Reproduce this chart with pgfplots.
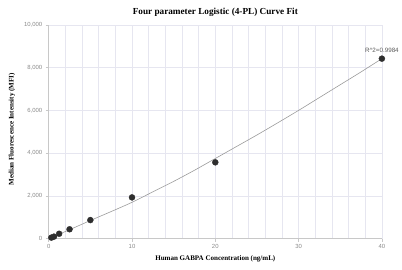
\documentclass[border=0pt]{standalone}
\usepackage{pgfplots}
\pgfplotsset{compat=1.18}
\usepackage{fontspec}
\setmainfont{Liberation Serif}
\setsansfont{Liberation Sans}
\definecolor{gridc}{HTML}{E6E6F0}
\definecolor{axc}{HTML}{C8C8C8}
\definecolor{tickc}{HTML}{8A8A8A}
\definecolor{dotc}{HTML}{2E2E2E}
\definecolor{curvec}{HTML}{9A9A9A}
\begin{document}
\begin{tikzpicture}
\begin{axis}[
  name=ax,
  at={(0,0)}, anchor=south west,
  scale only axis,
  width=335bp, height=215bp,
  xmin=0, xmax=40, ymin=0, ymax=10000,
  axis x line*=bottom, axis y line*=left,
  axis line style={axc, line width=0.8pt},
  xtick={0,10,20,30,40},
  minor xtick={2,4,6,8,12,14,16,18,22,24,26,28,32,34,36,38},
  ytick={0,2000,4000,6000,8000,10000},
  grid=both,
  major grid style={gridc, line width=0.5pt},
  minor grid style={gridc, line width=0.5pt},
  tick style={axc, line width=0.6pt},
  major tick length=3bp,
  minor tick length=0pt,
  tick align=outside,
  xtick pos=bottom, ytick pos=left,
  scaled y ticks=false,
  /pgf/number format/.cd, 1000 sep={,}, assume math mode=true,
  /pgfplots/.cd,
  ticklabel style={font=\sffamily\fontsize{6}{7}\selectfont, text=tickc},
  xticklabel style={yshift=1bp},
  clip=false,
]
\addplot[curvec, line width=0.6pt, smooth] coordinates {
(0,0) (2.5,420) (5,850) (7.5,1270) (10,1700) (12.5,2190) (15,2680) (17.5,3200)
(20,3750) (22.5,4300) (25,4850) (27.5,5420) (30,6000) (32.5,6600) (35,7200)
(37.5,7800) (40,8420)};
\addplot[only marks, mark=*, mark size=3bp, mark options={fill=dotc, draw=dotc}] coordinates {
(0.3125,50) (0.625,95) (1.25,230) (2.5,440) (5,870) (10,1930) (20,3570) (40,8420)};
\node[font=\sffamily\fontsize{6.3}{7}\selectfont, text=black!65, anchor=south] at (axis cs:40,8420) [yshift=2.5bp] {R\^{}2=0.9984};
\end{axis}
\path (-49bp,-31bp) rectangle (353bp,240bp);
\node[font=\bfseries\fontsize{9.3}{10}\selectfont] at (167.5bp,228bp) {Four parameter Logistic (4-PL) Curve Fit};
\node[font=\bfseries\fontsize{7.1}{8}\selectfont] at (167.5bp,-20bp) {Human GABPA Concentration (ng/mL)};
\node[font=\bfseries\fontsize{7.1}{8}\selectfont, rotate=90] at (-37bp,110bp) {Median Fluorescence Intensity (MFI)};
\end{tikzpicture}
\end{document}
